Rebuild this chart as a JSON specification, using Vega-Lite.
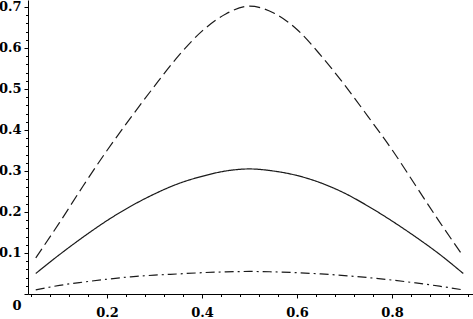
{
  "$schema": "https://vega.github.io/schema/vega-lite/v6.json",
  "width": 445,
  "height": 294,
  "autosize": "none",
  "padding": {"left": 28, "top": 0, "right": 0, "bottom": 25},
  "background": "white",
  "config": {
    "view": {"stroke": null},
    "axis": {"labelFont": "DejaVu Serif", "labelFontSize": 13, "labelFontWeight": "bold", "labelColor": "#000", "domainColor": "#000", "tickColor": "#000", "grid": false, "title": null}
  },
  "data": {
    "values": [
      {"x": 0.05, "y": 0.088, "s": "a"}, {"x": 0.10, "y": 0.174, "s": "a"}, {"x": 0.15, "y": 0.264, "s": "a"}, {"x": 0.20, "y": 0.350, "s": "a"}, {"x": 0.25, "y": 0.430, "s": "a"}, {"x": 0.30, "y": 0.507, "s": "a"}, {"x": 0.35, "y": 0.580, "s": "a"}, {"x": 0.40, "y": 0.641, "s": "a"}, {"x": 0.45, "y": 0.683, "s": "a"}, {"x": 0.50, "y": 0.702, "s": "a"}, {"x": 0.55, "y": 0.686, "s": "a"}, {"x": 0.60, "y": 0.645, "s": "a"}, {"x": 0.65, "y": 0.582, "s": "a"}, {"x": 0.70, "y": 0.510, "s": "a"}, {"x": 0.75, "y": 0.432, "s": "a"}, {"x": 0.80, "y": 0.352, "s": "a"}, {"x": 0.85, "y": 0.264, "s": "a"}, {"x": 0.90, "y": 0.176, "s": "a"}, {"x": 0.95, "y": 0.092, "s": "a"},
      {"x": 0.05, "y": 0.050, "s": "b"}, {"x": 0.10, "y": 0.096, "s": "b"}, {"x": 0.15, "y": 0.139, "s": "b"}, {"x": 0.20, "y": 0.179, "s": "b"}, {"x": 0.25, "y": 0.214, "s": "b"}, {"x": 0.30, "y": 0.244, "s": "b"}, {"x": 0.35, "y": 0.269, "s": "b"}, {"x": 0.40, "y": 0.287, "s": "b"}, {"x": 0.45, "y": 0.300, "s": "b"}, {"x": 0.50, "y": 0.305, "s": "b"}, {"x": 0.55, "y": 0.300, "s": "b"}, {"x": 0.60, "y": 0.289, "s": "b"}, {"x": 0.65, "y": 0.271, "s": "b"}, {"x": 0.70, "y": 0.246, "s": "b"}, {"x": 0.75, "y": 0.214, "s": "b"}, {"x": 0.80, "y": 0.178, "s": "b"}, {"x": 0.85, "y": 0.139, "s": "b"}, {"x": 0.90, "y": 0.097, "s": "b"}, {"x": 0.95, "y": 0.050, "s": "b"},
      {"x": 0.05, "y": 0.010, "s": "c"}, {"x": 0.10, "y": 0.021, "s": "c"}, {"x": 0.15, "y": 0.029, "s": "c"}, {"x": 0.20, "y": 0.036, "s": "c"}, {"x": 0.25, "y": 0.042, "s": "c"}, {"x": 0.30, "y": 0.046, "s": "c"}, {"x": 0.35, "y": 0.049, "s": "c"}, {"x": 0.40, "y": 0.052, "s": "c"}, {"x": 0.45, "y": 0.054, "s": "c"}, {"x": 0.50, "y": 0.055, "s": "c"}, {"x": 0.55, "y": 0.054, "s": "c"}, {"x": 0.60, "y": 0.052, "s": "c"}, {"x": 0.65, "y": 0.049, "s": "c"}, {"x": 0.70, "y": 0.045, "s": "c"}, {"x": 0.75, "y": 0.040, "s": "c"}, {"x": 0.80, "y": 0.034, "s": "c"}, {"x": 0.85, "y": 0.027, "s": "c"}, {"x": 0.90, "y": 0.019, "s": "c"}, {"x": 0.95, "y": 0.010, "s": "c"}
    ]
  },
  "mark": {"type": "line", "color": "#1a1a1a", "strokeWidth": 1.2, "clip": false, "interpolate": "monotone"},
  "encoding": {
    "x": {
      "field": "x", "type": "quantitative",
      "scale": {"domain": [0.0337, 0.9705], "nice": false, "zero": false},
      "axis": {
        "values": [0.04, 0.08, 0.12, 0.16, 0.2, 0.24, 0.28, 0.32, 0.36, 0.4, 0.44, 0.48, 0.52, 0.56, 0.6, 0.64, 0.68, 0.72, 0.76, 0.8, 0.84, 0.88, 0.92, 0.96],
        "labelExpr": "abs(datum.value*5 - round(datum.value*5)) < 1e-6 ? format(datum.value, '.1f') : ''",
        "tickSize": {"condition": {"test": "abs(datum.value*5 - round(datum.value*5)) < 1e-6", "value": 4}, "value": 2.5},
        "labelPadding": 8,
        "labelFlush": false,
        "labelOverlap": false
      }
    },
    "y": {
      "field": "y", "type": "quantitative",
      "scale": {"domain": [0, 0.717], "nice": false},
      "axis": {
        "values": [0, 0.02, 0.04, 0.06, 0.08, 0.1, 0.12, 0.14, 0.16, 0.18, 0.2, 0.22, 0.24, 0.26, 0.28, 0.3, 0.32, 0.34, 0.36, 0.38, 0.4, 0.42, 0.44, 0.46, 0.48, 0.5, 0.52, 0.54, 0.56, 0.58, 0.6, 0.62, 0.64, 0.66, 0.68, 0.7],
        "labelExpr": "datum.value == 0 ? '0' : (abs(datum.value*10 - round(datum.value*10)) < 1e-6 ? format(datum.value, '.1f') : '')",
        "tickSize": {"condition": {"test": "abs(datum.value*10 - round(datum.value*10)) < 1e-6", "value": 4}, "value": 2.5},
        "labelOffset": {"condition": {"test": "datum.value == 0", "value": 11}, "value": 0},
        "labelPadding": 3,
        "labelFlush": false,
        "labelOverlap": false
      }
    },
    "strokeDash": {
      "field": "s", "type": "nominal",
      "scale": {"domain": ["a", "b", "c"], "range": [[11, 5], [1, 0], [9, 4, 2, 4]]},
      "legend": null
    }
  }
}
